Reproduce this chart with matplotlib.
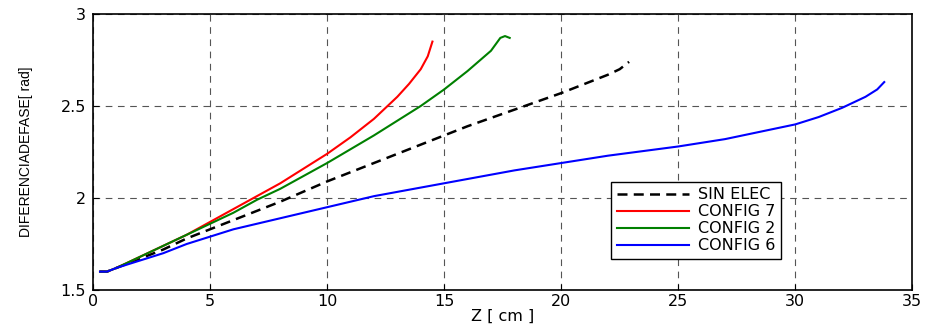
import matplotlib
matplotlib.use("Agg")
import matplotlib.pyplot as plt

plt.rcParams['font.family'] = ['DejaVu Sans']

# data
z_sin = [0.3, 0.6, 1, 2, 3, 4, 5, 6, 7, 8, 10, 12, 14, 16, 18, 20, 21, 22, 22.5, 22.9]
y_sin = [1.6, 1.6, 1.62, 1.67, 1.72, 1.78, 1.83, 1.88, 1.93, 1.98, 2.09, 2.19, 2.29, 2.39, 2.48, 2.57, 2.62, 2.67, 2.70, 2.74]

z_c7 = [0.3, 0.6, 1, 2, 3, 4, 5, 6, 7, 8, 9, 10, 11, 12, 13, 13.5, 14, 14.3, 14.4, 14.5]
y_c7 = [1.6, 1.6, 1.62, 1.68, 1.74, 1.8, 1.87, 1.94, 2.01, 2.08, 2.16, 2.24, 2.33, 2.43, 2.55, 2.62, 2.70, 2.77, 2.81, 2.85]

z_c2 = [0.3, 0.6, 1, 2, 3, 4, 5, 6, 7, 8, 10, 12, 14, 15, 16, 17, 17.4, 17.6, 17.8]
y_c2 = [1.6, 1.6, 1.62, 1.68, 1.74, 1.8, 1.86, 1.92, 1.99, 2.05, 2.19, 2.34, 2.5, 2.59, 2.69, 2.8, 2.87, 2.88, 2.87]

z_c6 = [0.3, 0.6, 1, 2, 3, 4, 5, 6, 8, 10, 12, 15, 18, 20, 22, 25, 27, 30, 31, 32, 33, 33.5, 33.8]
y_c6 = [1.6, 1.6, 1.62, 1.66, 1.7, 1.75, 1.79, 1.83, 1.89, 1.95, 2.01, 2.08, 2.15, 2.19, 2.23, 2.28, 2.32, 2.4, 2.44, 2.49, 2.55, 2.59, 2.63]

series = [
    (z_sin, y_sin, 'k', '--', 'SIN ELEC'),
    (z_c7, y_c7, 'r', '-', 'CONFIG 7'),
    (z_c2, y_c2, 'g', '-', 'CONFIG 2'),
    (z_c6, y_c6, 'b', '-', 'CONFIG 6'),
]

fig = plt.figure(figsize=(9.30, 3.29), dpi=100)
ax = fig.add_axes([0.1, 0.1185, 0.881, 0.839])
for z, y, c, ls, lab in series:
    ax.plot(z, y, color=c, linestyle=ls, linewidth=1.8 if ls == '--' else 1.5, label=lab,
            dashes=(4, 2.5) if ls == '--' else (None, None))

ax.set_xlim(0, 35)
ax.set_ylim(1.5, 3)
ax.set_xticks([0, 5, 10, 15, 20, 25, 30, 35])
ax.set_yticks([1.5, 2, 2.5, 3])
ax.set_yticklabels(['1.5', '2', '2.5', '3'])
ax.grid(True, color='#555555', linestyle=(0, (6, 5)), linewidth=0.8)
ax.tick_params(direction='in', labelsize=11.5, length=4, pad=3)
ax.tick_params(axis='y', pad=5)
for s in ax.spines.values():
    s.set_linewidth(1.2)
ax.set_xlabel('Z [ cm ]', fontsize=11.5, labelpad=0)
ax.set_ylabel('DIFERENCIADEFASE[ rad]', fontsize=10, labelpad=20, family='Liberation Sans')
leg = ax.legend(loc='lower right', bbox_to_anchor=(0.84, 0.113), fontsize=11.5, frameon=True,
                fancybox=False, edgecolor='k', framealpha=1, handlelength=4.5,
                handletextpad=0.6, borderpad=0.35, labelspacing=0.12, borderaxespad=0)
leg.get_frame().set_linewidth(1.0)

fig.savefig('out.png', dpi=100)
